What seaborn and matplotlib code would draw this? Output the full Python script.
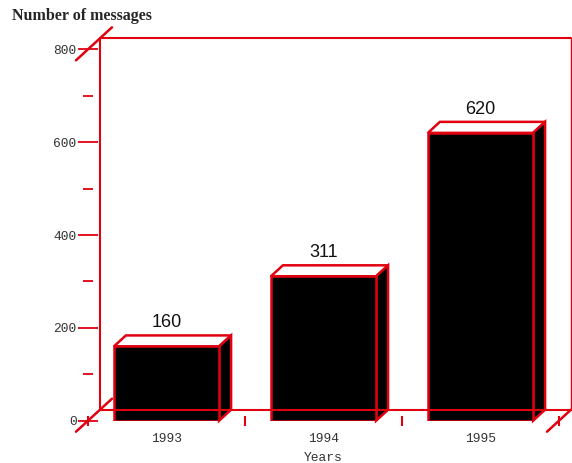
import matplotlib
matplotlib.use("Agg")
import matplotlib.pyplot as plt
from matplotlib.patches import Polygon
from matplotlib.lines import Line2D
import numpy as np
import pandas as pd
import seaborn as sns

# data
years = ["1993", "1994", "1995"]
messages = [160, 311, 620]
y_major = [0, 200, 400, 600, 800]
y_minor = [100, 300, 500, 700]

RED = "#e00010"
DEPTH = np.array([12, 11])  # 3d depth offset in pixels

sns.set_style("white")
fig = plt.figure(figsize=(5.72, 4.63), dpi=100)
ax = fig.add_axes([88 / 572, 42.3 / 463, 471 / 572, 371.4 / 463])

df = pd.DataFrame({"Years": years, "Messages": messages})
sns.barplot(data=df, x="Years", y="Messages", color="black", saturation=1,
            width=0.67, edgecolor=RED, linewidth=1.8, ax=ax, zorder=3)
ax.set_xlim(-0.5, len(years) - 0.5)
ax.set_ylim(y_major[0], y_major[-1])

def back(x, y, k=1.0):
    # shift a data point backwards in depth by k * DEPTH pixels
    d = ax.transData.transform((x, y)) + k * DEPTH
    return ax.transData.inverted().transform(d)

# back wall of the box (floor line sits on top of the bars, as in the original)
x0, x1 = ax.get_xlim()
y0, y1 = ax.get_ylim()
bl, tl, tr, br = back(x0, y0), back(x0, y1), back(x1, y1), back(x1, y0)
for a, b, lw, z in [(bl, tl, 1.5, 1), (tl, tr, 1.5, 1), (tr, br, 1.0, 1),
                    (bl, br, 1.5, 4)]:
    ax.add_line(Line2D([a[0], b[0]], [a[1], b[1]], color=RED, lw=lw,
                       clip_on=False, zorder=z))

# depth diagonals at the corners
for (x, y), k0, k1 in [((x0, y1), -1, 2), ((x0, y0), -1, 2), ((x1, y0), -1, 1)]:
    a, b = back(x, y, k0), back(x, y, k1)
    ax.add_line(Line2D([a[0], b[0]], [a[1], b[1]], color=RED, lw=1.8,
                       clip_on=False, zorder=1))

# top and side faces of each bar, plus value labels
for p, v in zip(ax.patches, messages):
    bx0, bx1, h = p.get_x(), p.get_x() + p.get_width(), p.get_height()
    top = [(bx0, h), (bx1, h), back(bx1, h), back(bx0, h)]
    side = [(bx1, 0), (bx1, h), back(bx1, h), back(bx1, 0)]
    ax.add_patch(Polygon(top, closed=True, facecolor="white", edgecolor=RED,
                         lw=1.8, clip_on=False, zorder=2))
    ax.add_patch(Polygon(side, closed=True, facecolor="black", edgecolor=RED,
                         lw=1.8, clip_on=False, zorder=2))
    ax.annotate(str(v), ((bx0 + bx1) / 2, h), xytext=(0, 11),
                textcoords="offset points", ha="center", va="bottom",
                fontsize=13, family="Liberation Sans", color="#111111")

for s in ax.spines.values():
    s.set_visible(False)

# axes ticks
ax.set_yticks(y_major)
ax.set_yticks(y_minor, minor=True)
ax.set_yticklabels([str(t) for t in y_major], family="Liberation Mono",
                   fontsize=9.3, color="#333333")
ax.set_xticks(range(len(years)))
ax.set_xticks(np.arange(-0.5, len(years)), minor=True)
ax.set_xticklabels(years, family="Liberation Mono", fontsize=9.3, color="#333333")
ax.tick_params(axis="y", which="major", direction="inout", length=14.5,
               width=1.3, color=RED, pad=1, left=True)
ax.tick_params(axis="y", which="minor", direction="inout", length=6.5,
               width=1.3, color=RED, left=True)
ax.tick_params(axis="x", which="major", length=0, pad=8.5)
ax.tick_params(axis="x", which="minor", direction="inout", length=7,
               width=1.5, color=RED, bottom=True)

ax.set_xlabel("Years", family="Liberation Mono", fontsize=9.3, color="#333333")
ax.xaxis.set_label_coords(0.5, -0.084)
ax.set_ylabel("")
ax.grid(False)

fig.text(12 / 572, 1 - 16 / 463, "Number of messages", ha="left", va="center",
         family="Liberation Serif", fontweight="bold", fontsize=11.5)

fig.savefig("out.png", dpi=100)
